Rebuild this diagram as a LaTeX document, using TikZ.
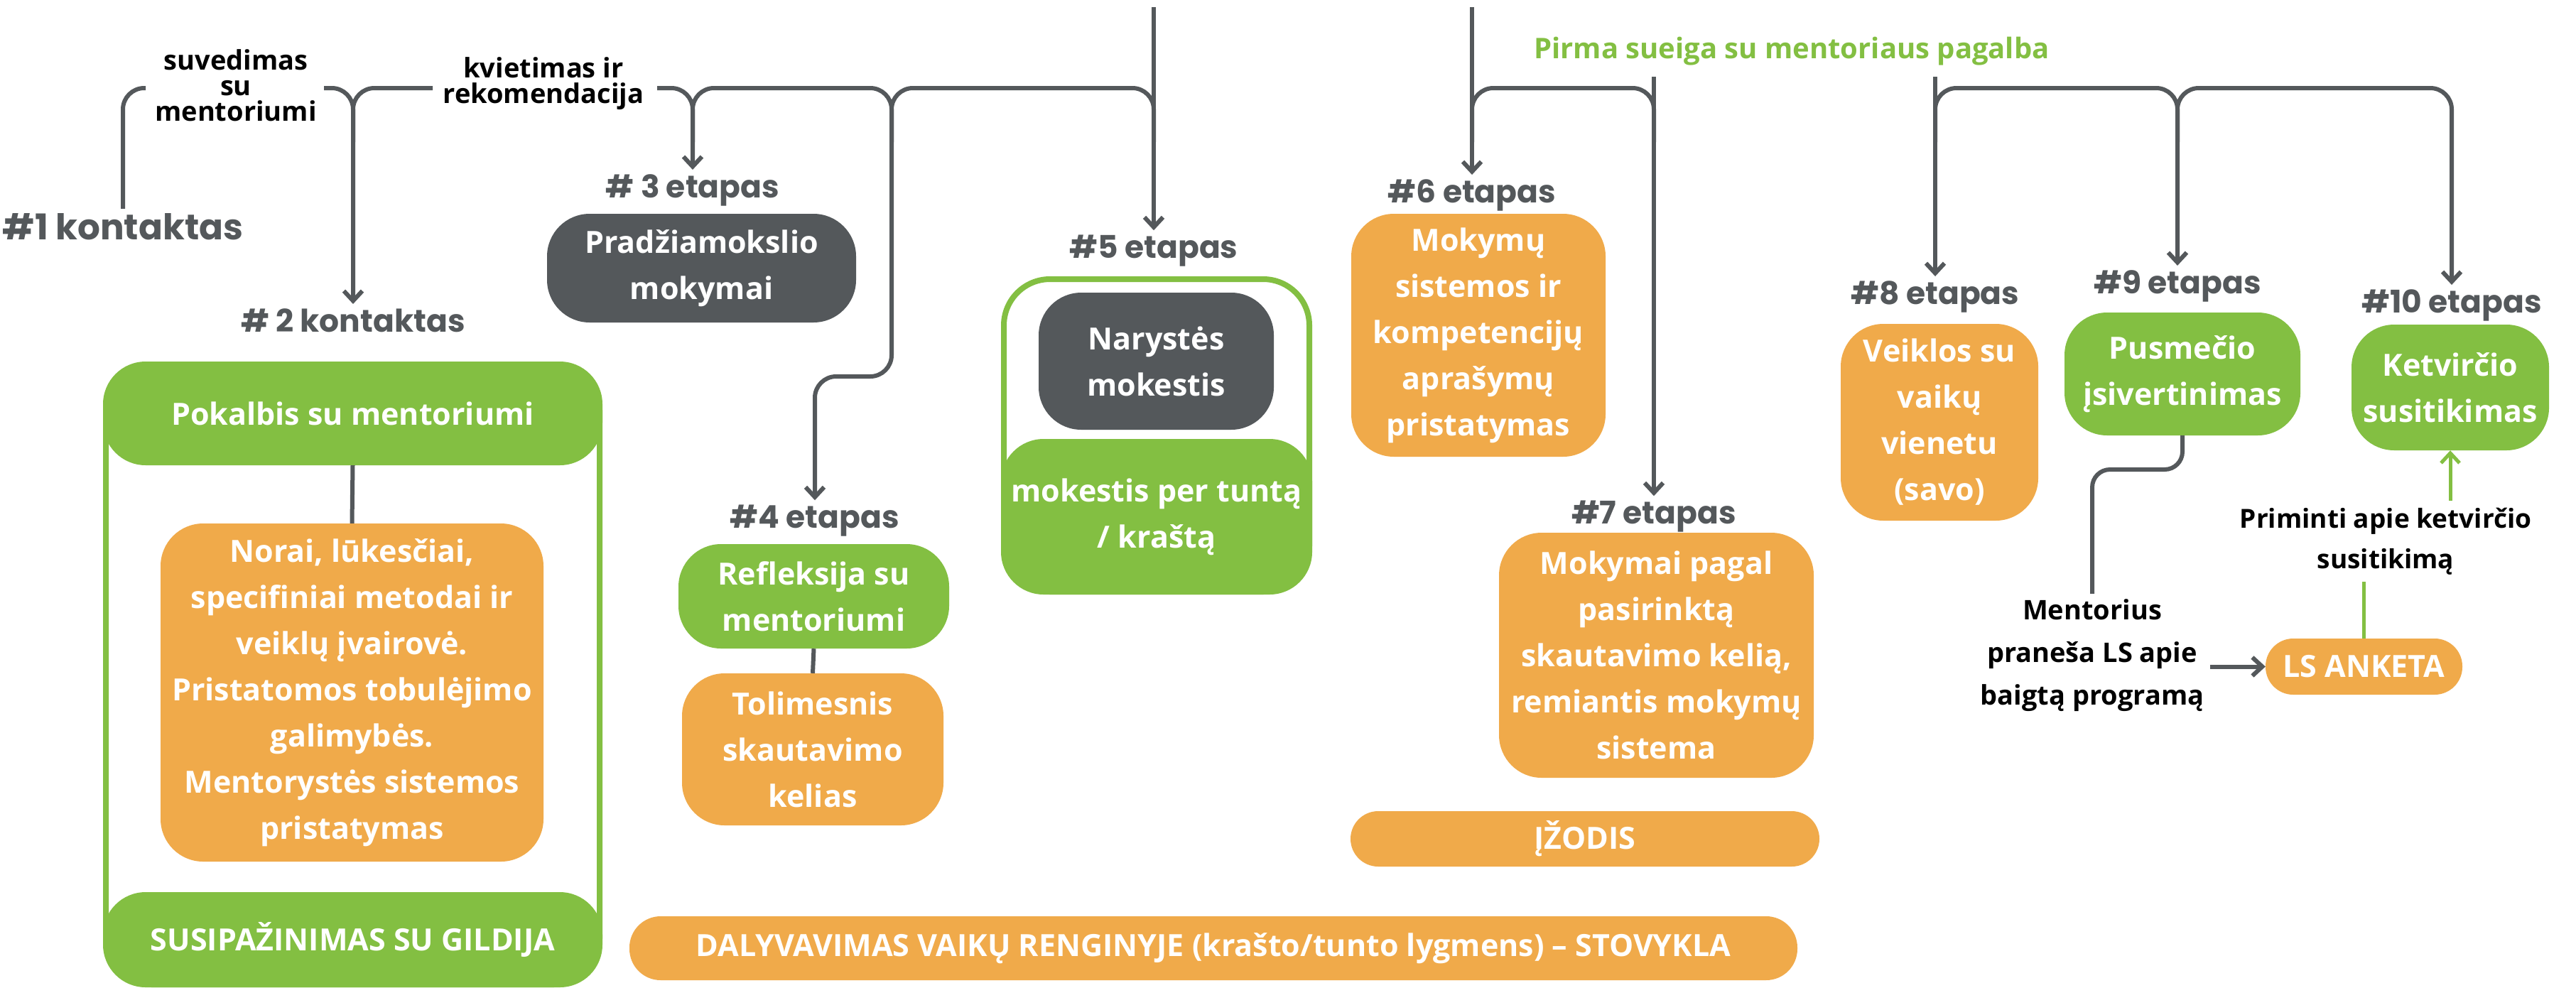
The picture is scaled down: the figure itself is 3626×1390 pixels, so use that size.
\documentclass[tikz,border=0pt]{standalone}
\usepackage{fontspec}
\setmainfont{Open Sans}
\newfontfamily\labfont{Poppins}
\usetikzlibrary{arrows.meta}
\definecolor{dgray}{HTML}{54585B}
\definecolor{lgreen}{HTML}{83BF42}
\definecolor{orng}{HTML}{F0AA4A}
\tikzset{
  br/.style={draw=dgray, line width=6pt, rounded corners=30pt},
  arr/.style={-{Straight Barb[length=14pt,width=26pt]}},
  box/.style={rounded corners=60pt, text=white, align=center, inner sep=0pt, font=\bfseries\fontsize{43}{65}\selectfont},
  obox/.style={box, fill=orng},
  gbox/.style={box, fill=lgreen},
  dbox/.style={box, fill=dgray},
  frame/.style={draw=lgreen, line width=8pt, rounded corners=65pt, inner sep=0pt},
  lab/.style={text=dgray, font=\labfont\bfseries\fontsize{44}{50}\selectfont, inner sep=6pt, anchor=base},
  note/.style={text=black, align=center, inner sep=8pt, font=\bfseries\fontsize{38}{36}\selectfont},
}
\begin{document}
\begin{tikzpicture}[x=1pt,y=-1pt]
\fill[white] (0,0) rectangle (3626,1390);
\useasboundingbox (0,0) rectangle (3626,1390);

% frames
\node[frame, minimum width=695pt, minimum height=873pt] (fr2) at (496.5,949.5) {};
\node[frame, minimum width=430pt, minimum height=440pt] (fr5) at (1628,613) {};

% boxes
\node[dbox, minimum width=435pt, minimum height=153pt] (prad) at (987.5,377.5) {Pradžiamokslio\\mokymai};
\node[gbox, minimum width=703pt, minimum height=146pt] (k2head) at (496.5,582) {Pokalbis su mentoriumi};
\node[obox, minimum width=539pt, minimum height=476pt] (norai) at (495.5,975) {Norai, lūkesčiai,\\specifiniai metodai ir\\veiklų įvairovė.\\Pristatomos tobulėjimo\\galimybės.\\Mentorystės sistemos\\pristatymas};
\node[gbox, minimum width=703pt, minimum height=134pt] (gild) at (496.5,1323) {SUSIPAŽINIMAS SU GILDIJA};
\node[dbox, minimum width=331pt, minimum height=193pt] (naryst) at (1627.5,508.5) {Narystės\\mokestis};
\node[gbox, minimum width=438pt, minimum height=219pt] (mokest) at (1628,727.5) {mokestis per tuntą\\/ kraštą};
\node[gbox, minimum width=381pt, minimum height=147pt] (refl) at (1145.5,839.5) {Refleksija su\\mentoriumi};
\node[obox, minimum width=368pt, minimum height=214pt] (tolim) at (1144,1055) {Tolimesnis\\skautavimo\\kelias};
\node[obox, minimum width=358pt, minimum height=342pt] (mok6) at (2081,472) {Mokymų\\sistemos ir\\kompetencijų\\aprašymų\\pristatymas};
\node[obox, minimum width=443pt, minimum height=345pt] (mok7) at (2331.5,922.5) {Mokymai pagal\\pasirinktą\\skautavimo kelią,\\remiantis mokymų\\sistema};
\node[obox, rounded corners=39pt, minimum width=660pt, minimum height=78pt] (izod) at (2231,1181) {ĮŽODIS};
\node[obox, rounded corners=44pt, minimum width=1644pt, minimum height=90pt] (daly) at (1708,1335) {DALYVAVIMAS VAIKŲ RENGINYJE (krašto/tunto lygmens) – STOVYKLA};
\node[obox, minimum width=278pt, minimum height=277pt] (veik) at (2730,594.5) {Veiklos su\\vaikų\\vienetu\\(savo)};
\node[gbox, minimum width=332pt, minimum height=173pt] (pusm) at (3072,526.5) {Pusmečio\\įsivertinimas};
\node[gbox, minimum width=278pt, minimum height=177pt] (ketv) at (3449,545.5) {Ketvirčio\\susitikimas};
\node[obox, rounded corners=39pt, minimum width=277pt, minimum height=79pt] (anketa) at (3327.5,938.5) {LS ANKETA};

% labels
\node[lab, font=\labfont\bfseries\fontsize{50}{56}\selectfont] (lab1) at (173,337) {\#1 kontaktas};
\node[lab] (lab2) at (497,467) {\# 2 kontaktas};
\node[lab] (lab3) at (975,278) {\# 3 etapas};
\node[lab] (lab4) at (1147,743) {\#4 etapas};
\node[lab] (lab5) at (1624,363) {\#5 etapas};
\node[lab] (lab6) at (2072,285) {\#6 etapas};
\node[lab] (lab7) at (2328,737) {\#7 etapas};
\node[lab] (lab8) at (2724,428) {\#8 etapas};
\node[lab] (lab9) at (3065,413) {\#9 etapas};
\node[lab] (lab10) at (3451,440) {\#10 etapas};

% notes
\node[note] (suv) at (332,120) {suvedimas\\su\\mentoriumi};
\node[note] (kviet) at (765,118) {kvietimas ir\\rekomendacija};
\node[note, text=lgreen, font=\bfseries\fontsize{40}{44}\selectfont, anchor=base] (pirma) at (2522,82) {Pirma sueiga su mentoriaus pagalba};
\node[note, font=\bfseries\fontsize{38}{60}\selectfont] (ment) at (2945,923) {Mentorius\\praneša LS apie\\baigtą programą};
\node[note, inner sep=10pt, font=\bfseries\fontsize{37}{57}\selectfont] (prim) at (3358,762) {Priminti apie ketvirčio\\susitikimą};

% brackets, left group
\draw[br] (lab1.north) -- (lab1.north |- 0,124) -- (205,124);
\draw[br,arr] (456,124) -- (lab2.north |- 0,124) -- (lab2.north);
\draw[br] (609,124) -- (lab2.north |- 0,124) -- (lab2.north |- 0,200);
\draw[br,arr] (925,124) -- (lab3.north |- 0,124) -- (lab3.north);
\draw[br,arr] (lab3.north |- 0,200) -- (lab3.north |- 0,124) -- (1255,124) -- (1255,530) -- (lab4.north |- 0,530) -- (lab4.north);
\draw[br] (1255,200) -- (1255,124) -- (lab5.north |- 0,124) -- (lab5.north |- 0,200);
\draw[br,arr] (lab5.north |- 0,10) -- (lab5.north);

% brackets, right group
\draw[br,arr] (lab6.north |- 0,10) -- (lab6.north);
\draw[br] (lab6.north |- 0,200) -- (lab6.north |- 0,124) -- (lab7.north |- 0,124) -- (lab7.north |- 0,200);
\draw[br,arr] (lab7.north |- 0,108) -- (lab7.north);
\draw[br,arr] (lab8.north |- 0,108) -- (lab8.north);
\draw[br,arr] (lab8.north |- 0,200) -- (lab8.north |- 0,124) -- (lab9.north |- 0,124) -- (lab9.north);
\draw[br,arr] (lab9.north |- 0,200) -- (lab9.north |- 0,124) -- (lab10.north |- 0,124) -- (lab10.north);

% inner connectors
\draw[br] (k2head.south) -- (norai.north);
\draw[br] (refl.south) -- (tolim.north);
\draw[br, rounded corners=25pt] (pusm.south) -- (pusm.south |- 0,661) -- (ment.north |- 0,661) -- (ment.north);
\draw[br, arr] (ment.east |- anketa.west) -- (anketa.west);
\draw[draw=lgreen, line width=5pt] (anketa.north) -- (anketa.north |- prim.south);
\draw[draw=lgreen, line width=5pt, arr] (ketv.south |- prim.north) -- (ketv.south);
\end{tikzpicture}
\end{document}
